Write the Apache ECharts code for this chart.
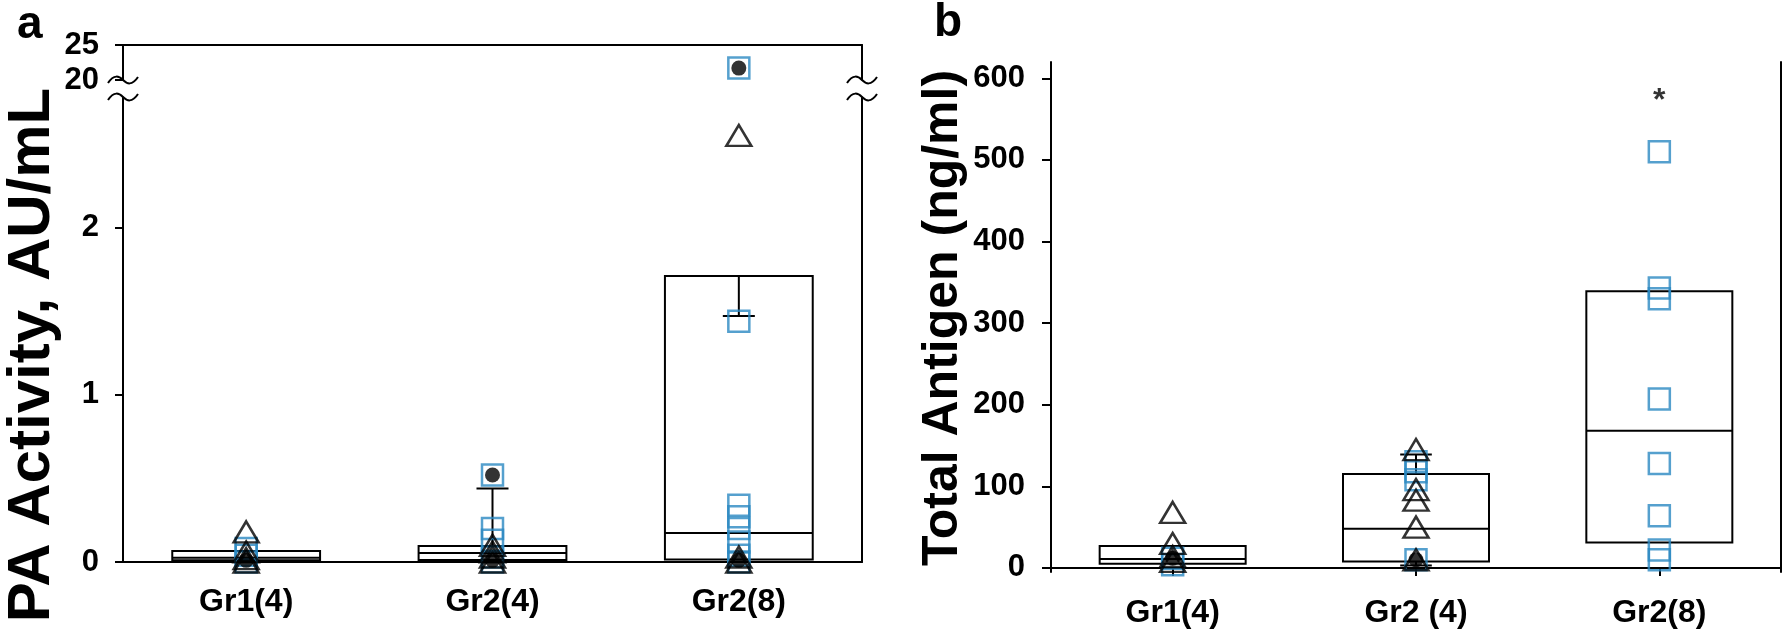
<!DOCTYPE html>
<html>
<head>
<meta charset="utf-8">
<script src="https://cdn.jsdelivr.net/npm/echarts@6/dist/echarts.min.js"></script>
<style>
html,body{margin:0;padding:0;background:#fff;}
#chart{width:1786px;height:635px;}
</style>
</head>
<body>
<div id="chart"></div>
<script>
// ---------- DATA ----------
const categoriesA = ['Gr1(4)', 'Gr2(4)', 'Gr2(8)'];
const categoriesB = ['Gr1(4)', 'Gr2 (4)', 'Gr2(8)'];

const ticksALow = [0, 1, 2];
const ticksAHigh = [20, 25];
const ticksB = [0, 100, 200, 300, 400, 500, 600];

// PA activity (panel a): box = [Q1, median, Q3]
const boxA = [[0.01, 0.025, 0.066], [0.012, 0.054, 0.096], [0.015, 0.174, 1.71]];
// whiskers [category, from, to]
const whiskerA = [[1, 0.096, 0.44], [2, 1.71, 1.47]];
const squaresA = [
  [0.08, 0.04, 0.0],
  [0.52, 0.2, 0.13, 0.03, 0.0],
  [21.7, 1.44, 0.34, 0.27, 0.2, 0.12, 0.04, 0.0]
];
const trianglesA = [
  [0.18, 0.06, 0.02, 0.0],
  [0.1, 0.06, 0.03, 0.0],
  [2.55, 0.03, 0.0]
];
const dotsA = [
  [0.01],
  [0.52, 0.01],
  [21.7, 0.01]
];

// Total antigen (panel b)
const boxB = [[5, 11, 27], [8, 48, 115], [31, 168, 339]];
const whiskerB = [[1, 115, 139], [1, 8, 3]];
const squaresB = [
  [12, 4],
  [130, 118, 108, 10],
  [510, 343, 330, 207, 128, 64, 22, 10]
];
const trianglesB = [
  [68, 30, 14, 8],
  [145, 96, 83, 50, 10],
  []
];
const dotsB = [
  [12],
  [10],
  []
];
const starB = [[2, 580]];

// ---------- STYLE / LAYOUT ----------
const FONT = "'Liberation Sans', Arial, sans-serif";
const BLUE = '#2a88c2';
const W = 1786, H = 635;
const L = {
  aLeft: 123, aRight: 862, aTop: 45, aBreakHi: 80, aBreakLo: 97, aBottom: 562,
  bLeft: 1051, bRight: 1781, bTop: 62, bBottom: 572
};
const BREAK_MIN = 19.99;

// which points belong above (hi) or below the axis break of panel a
function ptsA(groups, hi) {
  const out = [];
  groups.forEach((g, i) => g.forEach(v => {
    if ((v >= BREAK_MIN) === hi) out.push([i, v]);
  }));
  return out;
}
function ptsB(groups) {
  const out = [];
  groups.forEach((g, i) => g.forEach(v => out.push([i, v])));
  return out;
}

function renderBox(params, api) {
  const c = api.value(0);
  const q1 = api.coord([c, api.value(1)]);
  const md = api.coord([c, api.value(2)]);
  const q3 = api.coord([c, api.value(3)]);
  const bw = api.size([1, 0])[0] * 0.6;
  return {
    type: 'group',
    children: [
      { type: 'rect', shape: { x: q1[0] - bw / 2, y: q3[1], width: bw, height: q1[1] - q3[1] },
        style: { fill: 'none', stroke: '#000', lineWidth: 2 } },
      { type: 'line', shape: { x1: md[0] - bw / 2, y1: md[1], x2: md[0] + bw / 2, y2: md[1] },
        style: { stroke: '#000', lineWidth: 2 } }
    ]
  };
}
function renderWhisker(params, api) {
  const c = api.value(0);
  const p0 = api.coord([c, api.value(1)]);
  const p1 = api.coord([c, api.value(2)]);
  const cw = api.size([1, 0])[0] * 0.13;
  return {
    type: 'group',
    children: [
      { type: 'line', shape: { x1: p0[0], y1: p0[1], x2: p1[0], y2: p1[1] }, style: { stroke: '#000', lineWidth: 2 } },
      { type: 'line', shape: { x1: p1[0] - cw / 2, y1: p1[1], x2: p1[0] + cw / 2, y2: p1[1] }, style: { stroke: '#000', lineWidth: 2 } }
    ]
  };
}

const axisLineStyle = { show: true, lineStyle: { color: '#000', width: 2 } };
function xLabel(margin) {
  return { margin: margin, color: '#000', fontFamily: FONT, fontWeight: 'bold', fontSize: 32 };
}
function yLabel(margin, values) {
  return { margin: margin, customValues: values, color: '#000',
    fontFamily: FONT, fontWeight: 'bold', fontSize: 31 };
}

function frameAxis(type, gridIndex, position, extra) {
  return Object.assign({
    type: type, gridIndex: gridIndex, position: position,
    axisLine: axisLineStyle, axisTick: { show: false }, axisLabel: { show: false },
    splitLine: { show: false }
  }, extra || {});
}

function squareSeries(data, xi, yi) {
  return { type: 'scatter', xAxisIndex: xi, yAxisIndex: yi, data: data, clip: false, z: 3,
    symbol: 'rect', symbolSize: 21,
    itemStyle: { color: 'rgba(0,0,0,0)', borderColor: BLUE, borderWidth: 2.5 } };
}
function triSeries(data, xi, yi) {
  return { type: 'scatter', xAxisIndex: xi, yAxisIndex: yi, data: data, clip: false, z: 4,
    symbol: 'triangle', symbolSize: [25, 21],
    itemStyle: { color: 'rgba(0,0,0,0)', borderColor: '#000', borderWidth: 2.5 } };
}
function dotSeries(data, xi, yi) {
  return { type: 'scatter', xAxisIndex: xi, yAxisIndex: yi, data: data, clip: false, z: 5,
    symbol: 'circle', symbolSize: 15, itemStyle: { color: '#000' } };
}

const chart = echarts.init(document.getElementById('chart'), null, { renderer: 'canvas' });

const option = {
  animation: false,
  backgroundColor: '#fff',
  grid: [
    { left: L.aLeft, right: W - L.aRight, top: L.aTop, height: L.aBreakHi - L.aTop },
    { left: L.aLeft, right: W - L.aRight, top: L.aBreakLo, bottom: H - L.aBottom },
    { left: L.bLeft, right: W - L.bRight, top: L.bTop, bottom: H - L.bBottom }
  ],
  xAxis: [
    { type: 'category', gridIndex: 0, data: categoriesA, axisLine: { show: false }, axisTick: { show: false }, axisLabel: { show: false } },
    frameAxis('category', 0, 'top', { data: categoriesA }),
    { type: 'category', gridIndex: 1, data: categoriesA, axisLine: axisLineStyle, axisTick: { show: false },
      axisLabel: xLabel(24) },
    { type: 'category', gridIndex: 2, data: categoriesB, axisLine: axisLineStyle,
      axisTick: { show: true, alignWithLabel: true, length: 8, lineStyle: { color: '#000', width: 2 } },
      axisLabel: xLabel(25) },
    frameAxis('category', 2, 'top', { data: categoriesB })
  ],
  yAxis: [
    { type: 'value', gridIndex: 0, min: 20, max: 25, axisLine: axisLineStyle,
      axisTick: { show: true, length: 8, customValues: ticksAHigh, lineStyle: { color: '#000', width: 2 } },
      axisLabel: yLabel(24, ticksAHigh), splitLine: { show: false } },
    frameAxis('value', 0, 'right', { min: 20, max: 25 }),
    { type: 'value', gridIndex: 1, min: 0, max: 2.78, axisLine: axisLineStyle,
      axisTick: { show: true, length: 8, customValues: ticksALow, lineStyle: { color: '#000', width: 2 } },
      axisLabel: yLabel(24, ticksALow), splitLine: { show: false } },
    frameAxis('value', 1, 'right', { min: 0, max: 2.78 }),
    { type: 'value', gridIndex: 2, min: -5, max: 620, axisLine: axisLineStyle,
      axisTick: { show: true, length: 9, customValues: ticksB, lineStyle: { color: '#000', width: 2 } },
      axisLabel: yLabel(26, ticksB), splitLine: { show: false } },
    frameAxis('value', 2, 'right', { min: -5, max: 620 })
  ],
  series: [
    { type: 'custom', xAxisIndex: 2, yAxisIndex: 2, renderItem: renderBox, z: 2, clip: false,
      data: boxA.map((b, i) => [i, b[0], b[1], b[2]]), encode: { x: 0, y: [1, 2, 3] } },
    { type: 'custom', xAxisIndex: 2, yAxisIndex: 2, renderItem: renderWhisker, z: 2, clip: false,
      data: whiskerA, encode: { x: 0, y: [1, 2] } },
    squareSeries(ptsA(squaresA, false), 2, 2),
    triSeries(ptsA(trianglesA, false), 2, 2),
    dotSeries(ptsA(dotsA, false), 2, 2),
    squareSeries(ptsA(squaresA, true), 0, 0),
    triSeries(ptsA(trianglesA, true), 0, 0),
    dotSeries(ptsA(dotsA, true), 0, 0),
    { type: 'custom', xAxisIndex: 3, yAxisIndex: 4, renderItem: renderBox, z: 2, clip: false,
      data: boxB.map((b, i) => [i, b[0], b[1], b[2]]), encode: { x: 0, y: [1, 2, 3] } },
    { type: 'custom', xAxisIndex: 3, yAxisIndex: 4, renderItem: renderWhisker, z: 2, clip: false,
      data: whiskerB, encode: { x: 0, y: [1, 2] } },
    squareSeries(ptsB(squaresB), 3, 4),
    triSeries(ptsB(trianglesB), 3, 4),
    dotSeries(ptsB(dotsB), 3, 4),
    { type: 'scatter', xAxisIndex: 3, yAxisIndex: 4, data: starB, symbolSize: 0, clip: false,
      label: { show: true, position: 'inside', formatter: '*', color: '#000', fontFamily: FONT,
        fontWeight: 'bold', fontSize: 32, offset: [0, 7] } }
  ]
};
chart.setOption(option);

// decorations: panel letters, axis titles, axis-break marks
const yHi = chart.convertToPixel({ yAxisIndex: 0 }, 20);
const yLo = chart.convertToPixel({ yAxisIndex: 2 }, 2.78);
function squiggle(x, y) {
  const st = { fill: 'none', stroke: '#000', lineWidth: 2 };
  return [
    { type: 'bezierCurve', z: 10, shape: { x1: x - 15, y1: y + 3, cpx1: x - 9, cpy1: y - 6, cpx2: x - 4, cpy2: y - 4, x2: x, y2: y }, style: st },
    { type: 'bezierCurve', z: 10, shape: { x1: x, y1: y, cpx1: x + 4, cpy1: y + 4, cpx2: x + 9, cpy2: y + 6, x2: x + 15, y2: y - 3 }, style: st }
  ];
}
const gfx = [
  { type: 'text', x: 17, y: 2, style: { text: 'a', font: 'bold 46px ' + FONT, fill: '#000' } },
  { type: 'text', x: 934, y: 0, style: { text: 'b', font: 'bold 46px ' + FONT, fill: '#000' } },
  { type: 'text', x: 32, y: 355, rotation: Math.PI / 2,
    style: { text: 'PA Activity, AU/mL', font: 'bold 60px ' + FONT, fill: '#000', align: 'center', verticalAlign: 'middle' } },
  { type: 'text', x: 943, y: 318, rotation: Math.PI / 2,
    style: { text: 'Total Antigen (ng/ml)', font: 'bold 50px ' + FONT, fill: '#000', align: 'center', verticalAlign: 'middle' } }
].concat(squiggle(L.aLeft, yHi), squiggle(L.aLeft, yLo), squiggle(L.aRight, yHi), squiggle(L.aRight, yLo));
chart.setOption({ graphic: gfx });
</script>
</body>
</html>
